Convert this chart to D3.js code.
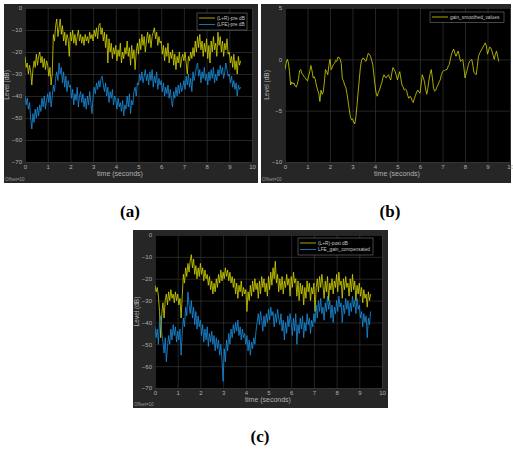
<!DOCTYPE html>
<html>
<head>
<meta charset="utf-8">
<script src="https://cdn.jsdelivr.net/npm/d3@7"></script>
<style>
  body { margin: 0; background: #fff; }
  svg { display: block; }
</style>
</head>
<body>
<svg id="chart" width="513" height="456"></svg>
<script>
// sample spacing of every trace (seconds)
const STEP = 0.05;

// (a) pre-processing levels, dB
const aLRpre = [-22,-27,-25,-30,-26,-29,-35,-28,-24,-27,-21,-26,-22,-20,-25,-22,-27,-23,-28,-24,
  -26,-31,-27,-35,-30,-12,-15,-8,-5,-13,-9,-5,-12,-8,-15,-11,-17,-12,-14,-22,
  -11,-15,-10,-16,-12,-17,-13,-10,-15,-12,-16,-13,-17,-12,-15,-13,-16,-11,-14,-12,
  -15,-10,-13,-9,-14,-8,-7,-12,-9,-15,-11,-18,-12,-25,-14,-20,-16,-23,-18,-21,
  -17,-24,-19,-22,-16,-25,-20,-23,-18,-21,-15,-22,-18,-26,-17,-23,-19,-28,-20,-16,
  -21,-14,-19,-12,-17,-13,-20,-15,-11,-16,-12,-18,-13,-11,-9,-14,-11,-17,-13,-16,
  -15,-21,-17,-24,-18,-22,-16,-25,-20,-23,-19,-26,-21,-28,-22,-25,-20,-27,-23,-21,
  -24,-20,-25,-30,-22,-24,-20,-23,-18,-22,-15,-20,-13,-18,-12,-19,-15,-22,-16,-20,
  -14,-23,-17,-25,-15,-20,-13,-19,-16,-22,-11,-17,-13,-20,-15,-22,-16,-19,-14,-21,
  -20,-25,-22,-27,-21,-28,-24,-30,-22,-26,-24];
const aLFEpre = [-40,-44,-41,-46,-43,-50,-55,-48,-52,-46,-50,-45,-49,-44,-47,-41,-45,-40,-46,-42,
  -39,-43,-38,-45,-40,-35,-38,-32,-29,-33,-25,-30,-27,-34,-29,-36,-31,-38,-33,-36,
  -35,-41,-37,-44,-39,-42,-36,-45,-40,-38,-43,-39,-45,-41,-46,-40,-44,-38,-43,-48,
  -40,-36,-39,-34,-37,-33,-36,-32,-31,-35,-38,-34,-40,-36,-43,-38,-41,-37,-44,-40,
  -42,-46,-41,-45,-43,-47,-42,-49,-44,-46,-40,-45,-39,-48,-42,-44,-38,-36,-40,-34,
  -35,-30,-33,-29,-34,-31,-28,-33,-30,-35,-29,-33,-28,-36,-31,-34,-29,-37,-32,-35,
  -33,-38,-34,-40,-36,-39,-35,-41,-37,-42,-45,-38,-41,-36,-40,-35,-39,-34,-38,-36,
  -33,-37,-31,-35,-30,-36,-32,-38,-29,-33,-30,-27,-25,-31,-28,-34,-29,-32,-27,-33,
  -30,-35,-29,-33,-28,-32,-27,-34,-30,-33,-28,-31,-26,-30,-27,-32,-29,-25,-28,-31,
  -30,-34,-31,-36,-33,-37,-34,-40,-35,-37,-36];

// (b) smoothed gain, dB
const bGain = [-1.0,-0.4,0.0,-0.3,-1.2,-2.5,-2.2,-2.4,-2.3,-2.6,-2.7,-2.4,-1.9,-1.1,-1.0,-1.4,-1.5,-1.7,-1.8,-2.0,
  -2.1,-1.6,-1.2,-0.6,-1.1,-1.8,-1.7,-2.0,-2.6,-3.0,-3.3,-4.1,-3.0,-3.4,-3.2,-2.2,-1.0,-1.2,-1.5,-0.6,
  0.0,-1.0,-0.8,-0.5,-0.4,-0.1,-0.2,0.2,0.2,0.0,-0.4,-1.9,-2.1,-2.5,-2.7,-3.3,-4.0,-4.8,-5.5,-5.9,
  -5.8,-6.1,-6.3,-5.6,-4.5,-3.2,-2.0,-0.8,-0.1,0.1,0.1,-0.1,-0.2,0.2,0.6,0.5,0.3,-0.1,-0.5,-1.5,
  -2.5,-3.3,-3.6,-3.2,-3.0,-2.6,-2.3,-1.8,-1.5,-1.7,-1.8,-1.6,-1.5,-1.8,-2.0,-1.3,-0.8,-1.0,-1.2,-1.6,
  -2.0,-1.5,-1.2,-1.9,-2.5,-2.7,-3.0,-2.9,-3.0,-3.5,-3.8,-3.6,-3.7,-4.0,-4.2,-3.8,-3.5,-3.2,-3.0,-3.2,
  -3.3,-2.4,-1.5,-1.8,-2.2,-2.9,-3.4,-2.8,-2.0,-1.4,-1.0,-1.8,-2.8,-3.1,-3.0,-2.7,-2.5,-2.2,-2.0,-1.5,
  -1.2,-1.1,-1.1,-1.0,-1.0,-0.7,-0.5,0.0,0.5,0.8,1.0,0.6,0.3,0.6,0.8,0.3,-0.2,-0.1,0.0,-0.8,
  -1.8,-1.4,-1.0,-0.5,-0.2,-0.1,0.0,-0.6,-1.3,-1.4,-1.5,-0.6,0.3,0.6,0.8,1.0,1.2,1.4,1.6,1.3,
  0.5,0.9,1.2,1.1,0.8,0.4,0.0,0.5,0.8,0.3,-0.2];

// (c) post-processing levels, dB
const cLRpost = [-23,-26,-24,-28,-35,-47,-36,-31,-38,-30,-27,-32,-26,-30,-25,-29,-27,-31,-26,-30,
  -27,-32,-29,-38,-28,-18,-22,-15,-19,-13,-17,-12,-9,-15,-11,-18,-14,-20,-15,-19,
  -13,-18,-15,-21,-16,-20,-18,-23,-19,-25,-21,-27,-22,-26,-20,-24,-18,-22,-16,-21,
  -17,-20,-15,-19,-16,-21,-17,-22,-19,-24,-20,-27,-22,-29,-23,-26,-21,-28,-24,-27,
  -25,-35,-26,-30,-23,-28,-21,-26,-20,-25,-22,-29,-21,-27,-19,-24,-20,-26,-22,-28,
  -19,-25,-17,-23,-15,-20,-12,-22,-18,-26,-20,-25,-19,-27,-21,-24,-18,-23,-20,-28,
  -19,-24,-17,-22,-20,-28,-21,-30,-22,-27,-23,-32,-24,-29,-21,-26,-22,-30,-24,-27,
  -22,-35,-24,-20,-26,-19,-24,-18,-23,-29,-21,-26,-19,-30,-22,-25,-20,-27,-21,-24,
  -18,-26,-17,-23,-21,-29,-20,-25,-19,-24,-22,-28,-20,-26,-18,-25,-21,-30,-23,-27,
  -22,-28,-24,-31,-25,-29,-27,-33,-26,-30,-27];
const cLFEcomp = [-42,-47,-43,-50,-40,-37,-45,-49,-54,-47,-58,-51,-46,-50,-43,-48,-41,-46,-42,-49,
  -44,-48,-43,-55,-45,-38,-42,-33,-37,-26,-32,-36,-30,-38,-33,-41,-35,-43,-37,-42,
  -39,-46,-41,-49,-43,-48,-42,-51,-45,-49,-44,-50,-46,-53,-47,-52,-48,-55,-50,-57,
  -67,-52,-58,-48,-53,-45,-50,-43,-47,-41,-45,-40,-44,-39,-46,-42,-48,-43,-47,-45,
  -50,-46,-53,-48,-55,-49,-52,-47,-50,-44,-40,-36,-41,-35,-39,-44,-37,-42,-36,-40,
  -34,-39,-33,-37,-35,-42,-36,-40,-34,-38,-41,-36,-44,-39,-48,-40,-45,-37,-42,-36,
  -40,-46,-38,-44,-36,-50,-41,-45,-38,-43,-37,-47,-40,-44,-36,-41,-38,-45,-39,-42,
  -36,-40,-32,-38,-30,-35,-29,-36,-33,-39,-31,-35,-28,-34,-30,-38,-32,-40,-33,-36,
  -30,-35,-28,-33,-31,-40,-32,-36,-29,-34,-30,-37,-31,-35,-28,-33,-30,-36,-29,-34,
  -32,-38,-35,-42,-36,-40,-37,-47,-38,-41,-35];

const xTicks = d3.range(0, 11);
const yTicksLevel = [0, -10, -20, -30, -40, -50, -60, -70];
const yTicksGain = [5, 0, -5, -10];

const YELLOW = '#d6d600';
const BLUE = '#1a8fe0';

const svg = d3.select('#chart');

function drawPanel(p) {
  const g = svg.append('g');

  // grey figure frame
  g.append('rect')
    .attr('x', p.frame[0]).attr('y', p.frame[1])
    .attr('width', p.frame[2] - p.frame[0]).attr('height', p.frame[3] - p.frame[1])
    .attr('fill', '#262626');

  const x = d3.scaleLinear().domain([0, 10]).range([p.plot[0], p.plot[2]]);
  const y = d3.scaleLinear().domain(p.yDomain).range([p.plot[3], p.plot[1]]);

  g.append('rect')
    .attr('x', p.plot[0]).attr('y', p.plot[1])
    .attr('width', p.plot[2] - p.plot[0]).attr('height', p.plot[3] - p.plot[1])
    .attr('fill', '#000');

  // grid
  g.append('g').attr('transform', `translate(0,${p.plot[3]})`)
    .call(d3.axisBottom(x).tickValues(xTicks).tickSize(-(p.plot[3] - p.plot[1])).tickFormat(''))
    .call(a => a.select('.domain').remove())
    .call(a => a.selectAll('line').attr('stroke', '#3c3c3c').attr('stroke-width', 0.6));
  g.append('g').attr('transform', `translate(${p.plot[0]},0)`)
    .call(d3.axisLeft(y).tickValues(p.yTicks).tickSize(-(p.plot[2] - p.plot[0])).tickFormat(''))
    .call(a => a.select('.domain').remove())
    .call(a => a.selectAll('line').attr('stroke', '#3c3c3c').attr('stroke-width', 0.6));

  // tick labels
  g.append('g').attr('transform', `translate(0,${p.plot[3]})`)
    .call(d3.axisBottom(x).tickValues(xTicks).tickSize(0).tickPadding(3).tickFormat(d3.format('d')))
    .call(a => a.select('.domain').remove())
    .call(a => a.selectAll('text').attr('fill', '#b0b0b0').style('font', '6px "Liberation Sans", Arial, sans-serif'));
  g.append('g').attr('transform', `translate(${p.plot[0]},0)`)
    .call(d3.axisLeft(y).tickValues(p.yTicks).tickSize(0).tickPadding(3).tickFormat(d3.format('d')))
    .call(a => a.select('.domain').remove())
    .call(a => a.selectAll('text').attr('fill', '#b0b0b0').style('font', '6px "Liberation Sans", Arial, sans-serif'));

  // traces
  const clipId = 'clip' + p.name;
  g.append('clipPath').attr('id', clipId).append('rect')
    .attr('x', p.plot[0]).attr('y', p.plot[1])
    .attr('width', p.plot[2] - p.plot[0]).attr('height', p.plot[3] - p.plot[1]);
  const line = d3.line().x((d, i) => x(i * STEP)).y(d => y(d));
  p.series.forEach(s => {
    g.append('path')
      .attr('clip-path', `url(#${clipId})`)
      .attr('d', line(s.values))
      .attr('fill', 'none')
      .attr('stroke', s.color)
      .attr('stroke-width', 0.8)
      .attr('stroke-linejoin', 'round');
  });

  // axis titles
  g.append('text')
    .attr('transform', `translate(${p.plot[0] - 16},${(p.plot[1] + p.plot[3]) / 2}) rotate(-90)`)
    .attr('text-anchor', 'middle')
    .attr('fill', '#b0b0b0')
    .style('font', '6.5px "Liberation Sans", Arial, sans-serif')
    .text('Level (dB)');
  g.append('text')
    .attr('x', p.xLabelX)
    .attr('y', p.plot[3] + 14)
    .attr('text-anchor', 'middle')
    .attr('fill', '#b0b0b0')
    .style('font', '7px "Liberation Sans", Arial, sans-serif')
    .text('time (seconds)');
  g.append('text')
    .attr('x', p.frame[0] + 1)
    .attr('y', p.frame[3] - 2)
    .attr('fill', '#9a9a9a')
    .style('font', '4.5px "Liberation Sans", Arial, sans-serif')
    .text('Offset=10');

  // legend
  const lg = g.append('g');
  lg.append('rect')
    .attr('x', p.legend[0]).attr('y', p.legend[1])
    .attr('width', p.legend[2]).attr('height', 4 + p.series.length * 6.5)
    .attr('fill', '#000').attr('stroke', '#8a8a8a').attr('stroke-width', 0.5);
  p.series.forEach((s, i) => {
    const ly = p.legend[1] + 5 + i * 6.5;
    lg.append('line')
      .attr('x1', p.legend[0] + 2).attr('x2', p.legend[0] + 18)
      .attr('y1', ly).attr('y2', ly)
      .attr('stroke', s.color).attr('stroke-width', 0.8);
    lg.append('text')
      .attr('x', p.legend[0] + 20).attr('y', ly + 1.7)
      .attr('fill', '#c8c8c8')
      .style('font', '4.8px "Liberation Sans", Arial, sans-serif')
      .text(s.label);
  });

  // caption
  svg.append('text')
    .attr('x', p.caption[0]).attr('y', p.caption[1])
    .attr('text-anchor', 'middle')
    .style('font', 'bold 17px "Liberation Serif", "Times New Roman", serif')
    .attr('fill', '#000')
    .text(p.captionText);
}

drawPanel({
  name: 'a', frame: [4, 4, 258, 183], plot: [25, 8, 252, 162],
  yDomain: [-70, 0], yTicks: yTicksLevel, xLabelX: 120,
  legend: [197, 13, 50],
  series: [
    { label: '(L+R)-pre dB', values: aLRpre, color: YELLOW },
    { label: '(LFE)-pre dB', values: aLFEpre, color: BLUE }
  ],
  caption: [130, 217], captionText: '(a)'
});

drawPanel({
  name: 'b', frame: [261, 4, 511, 183], plot: [285, 8, 510, 162],
  yDomain: [-10, 5], yTicks: yTicksGain, xLabelX: 397,
  legend: [430, 12, 74],
  series: [
    { label: 'gain_smoothed_values', values: bGain, color: YELLOW }
  ],
  caption: [390, 217], captionText: '(b)'
});

drawPanel({
  name: 'c', frame: [133, 230, 388, 408], plot: [155, 235, 382, 388],
  yDomain: [-70, 0], yTicks: yTicksLevel, xLabelX: 268,
  legend: [298, 238, 75],
  series: [
    { label: '(L+R)-post dB', values: cLRpost, color: YELLOW },
    { label: 'LFE_gain_compensated', values: cLFEcomp, color: BLUE }
  ],
  caption: [260, 442], captionText: '(c)'
});
</script>
</body>
</html>
